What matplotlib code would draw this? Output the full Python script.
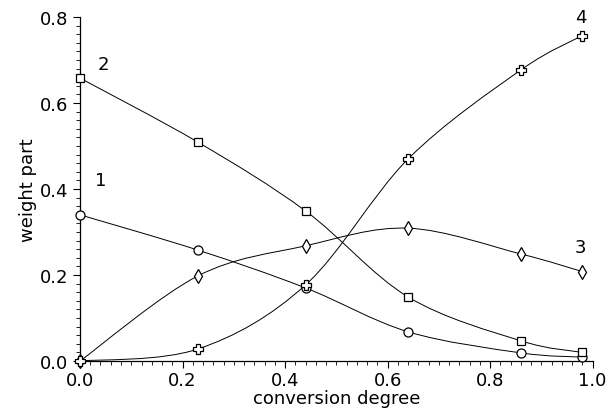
import numpy as np
import matplotlib.pyplot as plt
from matplotlib.path import Path
from matplotlib.patches import PathPatch
from matplotlib.ticker import MultipleLocator

# conversion degree at the measured points
conversion = [0.0, 0.23, 0.44, 0.64, 0.86, 0.98]

# weight parts of the four components
comp1 = [0.34, 0.258, 0.17, 0.068, 0.019, 0.009]
comp2 = [0.658, 0.509, 0.349, 0.149, 0.047, 0.02]
comp3 = [0.0, 0.198, 0.268, 0.309, 0.249, 0.208]
comp4 = [0.0, 0.028, 0.177, 0.47, 0.677, 0.757]

series_labels = ['1', '2', '3', '4']
markers = ['o', 's', 'd', 'P']


def smooth_path(x, y):
    # Catmull-Rom through the points, drawn as cubic Bezier segments
    pts = np.column_stack([x, y])
    verts = [pts[0]]
    codes = [Path.MOVETO]
    n = len(pts)
    for i in range(n - 1):
        p0 = pts[i - 1] if i > 0 else pts[i]
        p1, p2 = pts[i], pts[i + 1]
        p3 = pts[i + 2] if i + 2 < n else pts[i + 1]
        c1 = p1 + (p2 - p0) / 6.0
        c2 = p2 - (p3 - p1) / 6.0
        verts += [c1, c2, p2]
        codes += [Path.CURVE4] * 3
    return Path(verts, codes)


def main():
    fig = plt.figure(figsize=(6.06, 4.10), dpi=100)
    ax = fig.add_axes([0.132, 0.117, 0.846, 0.839])

    sizes = {'o': 6.5, 's': 6, 'd': 7.5, 'P': 6.5}
    for y, m in zip([comp1, comp2, comp3, comp4], markers):
        ax.add_patch(PathPatch(smooth_path(conversion, y), facecolor='none',
                               edgecolor='black', lw=0.7))
        ax.plot(conversion, y, linestyle='none', marker=m, ms=sizes[m],
                mfc='white', mec='black', mew=0.9, clip_on=False, zorder=3)

    label_pos = [(0.04, 0.42), (0.045, 0.69), (0.977, 0.265), (0.977, 0.80)]
    for lab, (lx, ly) in zip(series_labels, label_pos):
        ax.text(lx, ly, lab, fontsize=13, ha='center', va='center')

    ax.set_xlim(0, 1.0)
    ax.set_ylim(0, 0.8)
    ax.xaxis.set_major_locator(MultipleLocator(0.2))
    ax.xaxis.set_minor_locator(MultipleLocator(0.02))
    ax.yaxis.set_major_locator(MultipleLocator(0.2))
    ax.yaxis.set_minor_locator(MultipleLocator(0.02))
    ax.xaxis.set_major_formatter(plt.FormatStrFormatter('%.1f'))
    ax.yaxis.set_major_formatter(plt.FormatStrFormatter('%.1f'))
    ax.tick_params(which='major', direction='out', length=5, width=0.8, labelsize=13)
    ax.tick_params(which='minor', direction='out', length=3, width=0.6)
    ax.tick_params(axis='x', pad=2)
    for s in ['top', 'right']:
        ax.spines[s].set_visible(False)
    ax.spines['left'].set_linewidth(0.9)
    ax.spines['bottom'].set_linewidth(0.9)

    ax.set_xlabel('conversion degree', fontsize=13, labelpad=0)
    ax.set_ylabel('weight part', fontsize=13, labelpad=2)

    fig.savefig('out.png', dpi=100)


if __name__ == "__main__":
    main()
